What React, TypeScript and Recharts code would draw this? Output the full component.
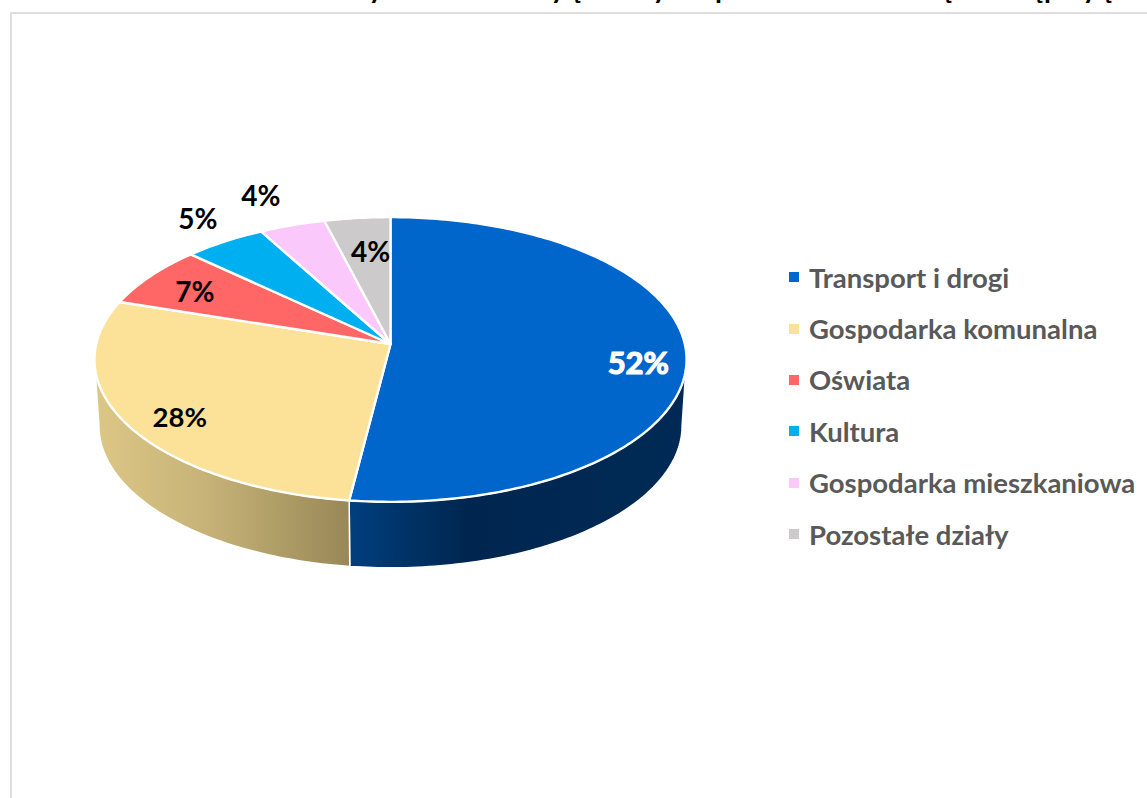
import { Legend, Pie, PieChart } from 'recharts';

const categories = [
  'Transport i drogi',
  'Gospodarka komunalna',
  'Oświata',
  'Kultura',
  'Gospodarka mieszkaniowa',
  'Pozostałe działy',
];
const values = [52, 28, 7, 5, 4, 4];
const colors = ['#0066cc', '#fbe298', '#ff6666', '#00afef', '#fbc8fb', '#cccaca'];
const wallFills = ['url(#wallBlue)', 'url(#wallYellow)', 'none', 'none', 'none', 'none'];
const labelColors = ['#ffffff', '#000000', '#000000', '#000000', '#000000', '#000000'];
const labelSizes = [31, 27.5, 28, 28, 28, 28];

// the top line of the title is cut off by the page edge, only these tails show
const titleTails = ['y', 'y', 'ę', 'y', 'p', 'ę', 'ę', 'p', 'y', 'ę'];
const titleTailX = [376, 558, 577, 660, 723, 948, 1039, 1052, 1090, 1108];

// label placement: radius as a share of the pie, and turn from the slice middle
const labelRadius = [0.84, 0.837, 0.797, 1.228, 1.295, 0.72];
const labelTurn = [5, -3.5, -1, 1.6, -1, 1.4];

const pieData = categories.map((name, i) => ({ name, value: values[i], fill: colors[i] }));

const FONT = 'Lato, sans-serif';
const CX = 390.5;
const CY = 344;
const RADIUS = 294.3;
const SQUASH = 0.478; // vertical scale of the tilted disc
const PERSPECTIVE = 0.1088;
const DEPTH = 66;
const BOTTOM_SCALE = 0.985;

// theta is clockwise from 12 o'clock, r is a share of the radius
function project(theta: number, r = 1) {
  const t = (theta * Math.PI) / 180;
  const u = r * Math.sin(t);
  const v = -r * Math.cos(t);
  const d = 1 - PERSPECTIVE * v;
  return { x: CX + (RADIUS * u) / d, y: CY + (RADIUS * SQUASH * v) / d };
}

function arcPoints(from: number, to: number) {
  const steps = Math.max(2, Math.ceil(Math.abs(to - from)));
  const pts = [];
  for (let i = 0; i <= steps; i++) pts.push(project(from + ((to - from) * i) / steps));
  return pts;
}

const toPath = (pts: { x: number; y: number }[]) =>
  pts.map((p, i) => `${i ? 'L' : 'M'}${p.x.toFixed(2)} ${p.y.toFixed(2)}`).join(' ') + ' Z';

const TopSlice = (props: any) => {
  const pts = arcPoints(90 - props.startAngle, 90 - props.endAngle);
  return (
    <path
      d={toPath([{ x: CX, y: CY }, ...pts])}
      fill={props.fill}
      stroke="#ffffff"
      strokeWidth={2.4}
      strokeLinejoin="round"
    />
  );
};

const WALL_FROM = 96.2;
const WALL_TO = 263.8;

const WallSlice = (props: any) => {
  const from = Math.max(90 - props.startAngle, WALL_FROM);
  const to = Math.min(90 - props.endAngle, WALL_TO);
  if (to <= from) return null;
  const top = arcPoints(from, to);
  const bottom = top
    .map((p) => ({ x: CX + (p.x - CX) * BOTTOM_SCALE, y: p.y + DEPTH }))
    .reverse();
  return (
    <path
      d={toPath([...top, ...bottom])}
      fill={wallFills[categories.indexOf(props.name)]}
      stroke="#ffffff"
      strokeWidth={1.5}
    />
  );
};

const renderLabel = (props: any) => {
  const { index, midAngle } = props;
  const p = project(90 - midAngle + labelTurn[index], labelRadius[index]);
  return (
    <text
      x={p.x}
      y={p.y}
      textAnchor="middle"
      dominantBaseline="central"
      fontFamily={FONT}
      fontWeight={700}
      fontSize={labelSizes[index]}
      fill={labelColors[index]}
      stroke={index === 0 ? '#ffffff' : 'none'}
      strokeWidth={index === 0 ? 1.2 : 0}
    >
      {`${values[index]}%`}
    </text>
  );
};

const renderLegend = ({ payload }: any) => {
  // both pies report their slices, keep one row per category
  const rows = (payload ?? []).filter(
    (entry: any, i: number, all: any[]) => all.findIndex((e) => e.value === entry.value) === i,
  );
  return (
    <div>
      {rows.map((entry: any) => (
        <div
          key={entry.value}
          style={{ display: 'flex', alignItems: 'center', height: 51.4, whiteSpace: 'nowrap' }}
        >
          <span style={{ width: 10, height: 10, background: entry.color, marginRight: 10 }} />
          <span style={{ fontFamily: FONT, fontWeight: 700, fontSize: 27.5, color: '#595959' }}>
            {entry.value}
          </span>
        </div>
      ))}
    </div>
  );
};

export default function App() {
  return (
    <div
      style={{
        position: 'absolute',
        left: 0,
        top: 0,
        width: 1147,
        height: 798,
        overflow: 'hidden',
        background: '#ffffff',
      }}
    >
      <div
        style={{
          position: 'absolute',
          left: 10,
          top: 12,
          width: 1137,
          height: 786,
          borderTop: '2px solid #dedede',
          borderLeft: '2px solid #dedede',
          boxSizing: 'border-box',
        }}
      />
      <svg width={1147} height={12} style={{ position: 'absolute', left: 0, top: 0 }}>
        {titleTails.map((ch, i) => (
          <text
            key={i}
            x={titleTailX[i]}
            y={-2}
            textAnchor="middle"
            fontFamily={FONT}
            fontWeight={700}
            fontSize={28}
            fill="#000000"
          >
            {ch}
          </text>
        ))}
      </svg>
      <div style={{ position: 'absolute', left: 0, top: 0 }}>
        <PieChart width={1147} height={798} margin={{ top: 0, right: 0, bottom: 0, left: 0 }}>
          <defs>
            <linearGradient id="wallBlue" x1="0" y1="0" x2="1" y2="0">
              <stop offset="0%" stopColor="#003f7e" />
              <stop offset="35%" stopColor="#00264f" />
              <stop offset="100%" stopColor="#002a55" />
            </linearGradient>
            <linearGradient id="wallYellow" x1="0" y1="0" x2="1" y2="0">
              <stop offset="0%" stopColor="#dcc786" />
              <stop offset="45%" stopColor="#c6b277" />
              <stop offset="100%" stopColor="#988857" />
            </linearGradient>
          </defs>
          <Pie
            data={pieData}
            dataKey="value"
            nameKey="name"
            cx={CX}
            cy={CY}
            outerRadius={RADIUS}
            startAngle={90}
            endAngle={-270}
            stroke="none"
            legendType="none"
            shape={WallSlice}
            isAnimationActive={false}
          />
          <Pie
            data={pieData}
            dataKey="value"
            nameKey="name"
            cx={CX}
            cy={CY}
            outerRadius={RADIUS}
            startAngle={90}
            endAngle={-270}
            shape={TopSlice}
            label={renderLabel}
            labelLine={false}
            isAnimationActive={false}
          />
          <Legend
            content={renderLegend}
            layout="vertical"
            itemSorter={null}
            wrapperStyle={{ position: 'absolute', left: 789, top: 251.5, width: 358 }}
          />
        </PieChart>
      </div>
    </div>
  );
}
